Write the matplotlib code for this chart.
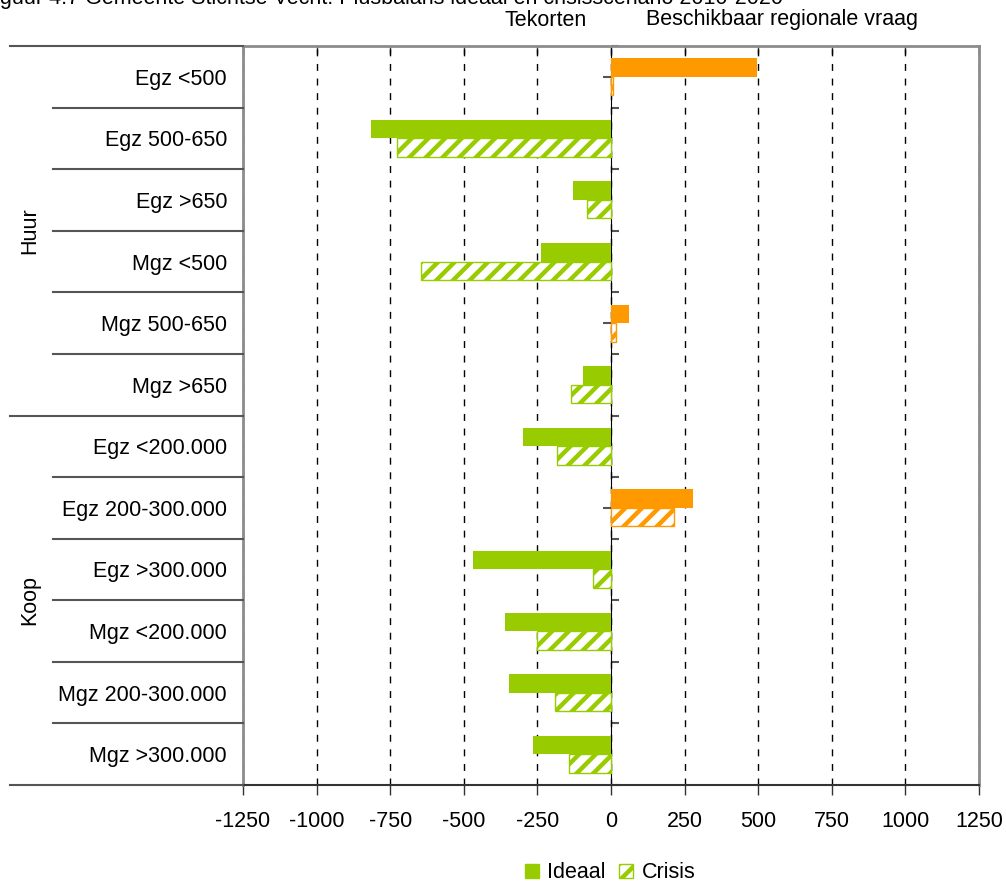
import numpy as np
import matplotlib
matplotlib.use("Agg")
import matplotlib.pyplot as plt
import matplotlib.transforms as mtransforms
from matplotlib.patches import Patch

plt.rcParams['font.family'] = ['Liberation Sans', 'DejaVu Sans']
plt.rcParams['font.size'] = 15.5
plt.rcParams['hatch.linewidth'] = 3.2

# Woningtypen (van boven naar beneden) en de plusbalans per scenario
categorieen = ['Egz <500', 'Egz 500-650', 'Egz >650', 'Mgz <500', 'Mgz 500-650', 'Mgz >650',
               'Egz <200.000', 'Egz 200-300.000', 'Egz >300.000',
               'Mgz <200.000', 'Mgz 200-300.000', 'Mgz >300.000']
groepen = ['Huur', 'Koop']
ideaal = [495, -815, -129, -238, 61, -95, -299, 279, -469, -360, -346, -265]
crisis = [7, -727, -80, -645, 16, -135, -182, 213, -60, -250, -189, -142]
xticks = [-1250, -1000, -750, -500, -250, 0, 250, 500, 750, 1000, 1250]

groen = '#99cc00'
oranje = '#ff9900'

fig = plt.figure(figsize=(10.06, 8.83), dpi=100)
L, R, T, B = 243, 979, 46, 785
ax = fig.add_axes([L / 1006, 1 - B / 883, (R - L) / 1006, (B - T) / 883])

y = np.arange(len(categorieen))
h = 0.3
kleur_i = [oranje if v > 0 else groen for v in ideaal]
kleur_c = [oranje if v > 0 else groen for v in crisis]
ax.barh(y - h / 2, ideaal, height=h, color=kleur_i, zorder=3)
ax.barh(y + h / 2, crisis, height=h, facecolor='white', edgecolor=kleur_c,
        hatch='//', linewidth=1, zorder=3)

ax.set_xlim(-1250, 1250)
ax.set_ylim(len(categorieen) - 0.5, -0.5)
ax.set_xticks(xticks)
ax.set_xticklabels([str(t) for t in xticks])
ax.set_yticks(y)
ax.set_yticklabels(categorieen)
ax.tick_params(axis='y', length=0, pad=11.5)
ax.tick_params(axis='x', direction='out', length=7, width=1, color='#333333', pad=12)

# gestreepte verticale hulplijnen
ax.grid(axis='x', color='black', linestyle=(0, (5, 5.5)), linewidth=1, zorder=1)
ax.grid(axis='y', visible=False)

for s in ['top', 'left', 'right']:
    ax.spines[s].set_color('#8c8c8c')
    ax.spines[s].set_linewidth(2)
ax.spines['bottom'].set_color('#333333')
ax.spines['bottom'].set_linewidth(1.5)

# tickjes aan de bovenkant
top = ax.secondary_xaxis('top')
top.set_xticks(xticks)
top.set_xticklabels([])
top.tick_params(direction='in', length=6, width=1, color='#333333')
top.spines['top'].set_visible(False)

# nullijn met tickjes op de categoriegrenzen
nul = ax.secondary_yaxis(0.5)
nul.set_yticks(np.arange(len(categorieen) + 1) - 0.5)
nul.set_yticklabels([])
nul.set_yticks(y, minor=True)
nul.tick_params(which='major', direction='out', length=6, width=1.5, color='#555555')
nul.tick_params(which='minor', direction='in', length=6, width=1.5, color='#555555')
nul.spines['left'].set_color('black')
nul.spines['left'].set_linewidth(1.2)

# scheidingslijnen en groepslabels links van de grafiek
trans = mtransforms.blended_transform_factory(ax.transAxes, ax.transData)
x_groep = (10 - L) / (R - L)
x_cat = (53 - L) / (R - L)
for k in range(len(categorieen) + 1):
    yb = k - 0.5
    x0 = x_groep if k % 6 == 0 else x_cat
    ax.plot([x0, 0], [yb, yb], transform=trans, color='#555555', lw=1.5,
            clip_on=False, zorder=4)
for i, g in enumerate(groepen):
    ax.text((30 - L) / (R - L), 6 * i + 2.5, g, transform=trans, rotation=90,
            ha='center', va='center')

fig.text(546 / 1006, 1 - 20 / 883, 'Tekorten', ha='center', va='center')
fig.text(782 / 1006, 1 - 20 / 883, 'Beschikbaar regionale vraag', ha='center', va='center')
fig.text(-18 / 1006, 1 - 4 / 883,
         'Figuur 4.7 Gemeente Stichtse Vecht: Plusbalans ideaal en crisisscenario 2010-2020',
         ha='left', va='baseline')

handles = [Patch(facecolor=groen, edgecolor=groen),
           Patch(facecolor='white', edgecolor=groen, hatch='//')]
fig.legend(handles, ['Ideaal', 'Crisis'], loc='center', ncol=2,
           bbox_to_anchor=(610 / 1006, 1 - 873 / 883), frameon=False,
           handlelength=0.65, handleheight=0.65, handletextpad=0.4, columnspacing=0.6)

fig.savefig('out.png', dpi=100)
